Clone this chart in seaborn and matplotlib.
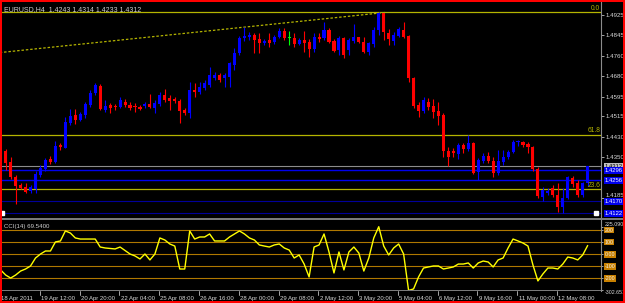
import numpy as np
import pandas as pd
import matplotlib
matplotlib.use("Agg")
import matplotlib.pyplot as plt
import matplotlib.transforms as mtransforms
from matplotlib.patches import Rectangle
import seaborn as sns

sns.set_style("dark", {"axes.facecolor": "black", "figure.facecolor": "black"})
plt.rcParams['font.family'] = ['Liberation Sans', 'DejaVu Sans']

# ---------------- data ----------------
header = "EURUSD,H4  1.4243 1.4314 1.4233 1.4312"
cci_label = "CCI(14) 69.5400"

opens = [1.4370, 1.4376, 1.4331, 1.4271, 1.4238, 1.4230, 1.4214, 1.4222, 1.4279, 1.4303,
         1.4343, 1.4331, 1.4400, 1.4388, 1.4489, 1.4521, 1.4501, 1.4521, 1.4561, 1.4610,
         1.4638, 1.4541, 1.4561, 1.4555, 1.4553, 1.4574, 1.4561, 1.4557, 1.4553, 1.4557,
         1.4565, 1.4549, 1.4565, 1.4602, 1.4590, 1.4586, 1.4578, 1.4541, 1.4529, 1.4622,
         1.4614, 1.4630, 1.4642, 1.4670, 1.4683, 1.4670, 1.4675, 1.4723, 1.4772, 1.4832,
         1.4836, 1.4844, 1.4828, 1.4812, 1.4824, 1.4816, 1.4836, 1.4860, 1.4832, 1.4832,
         1.4808, 1.4824, 1.4816, 1.4788, 1.4836, 1.4832, 1.4864, 1.4820, 1.4784, 1.4832,
         1.4784, 1.4820, 1.4836, 1.4816, 1.4776, 1.4808, 1.4864, 1.4933, 1.4852, 1.4820,
         1.4840, 1.4864, 1.4840, 1.4670, 1.4561, 1.4537, 1.4574, 1.4557, 1.4537, 1.4521,
         1.4376, 1.4376, 1.4364, 1.4400, 1.4384, 1.4408, 1.4291, 1.4335, 1.4355, 1.4335,
         1.4287, 1.4331, 1.4351, 1.4372, 1.4410, 1.4412, 1.4404, 1.4392, 1.4303, 1.4190,
         1.4206, 1.4226, 1.4198, 1.4149, 1.4182, 1.4267, 1.4246, 1.4198, 1.4243]
highs = [1.4380, 1.4384, 1.4351, 1.4279, 1.4246, 1.4246, 1.4238, 1.4295, 1.4319, 1.4347,
         1.4355, 1.4416, 1.4408, 1.4513, 1.4545, 1.4545, 1.4533, 1.4574, 1.4622, 1.4650,
         1.4646, 1.4582, 1.4569, 1.4565, 1.4594, 1.4586, 1.4574, 1.4569, 1.4561, 1.4574,
         1.4606, 1.4582, 1.4614, 1.4626, 1.4602, 1.4594, 1.4586, 1.4549, 1.4654, 1.4650,
         1.4654, 1.4662, 1.4715, 1.4695, 1.4691, 1.4691, 1.4735, 1.4792, 1.4840, 1.4877,
         1.4856, 1.4852, 1.4852, 1.4828, 1.4852, 1.4844, 1.4872, 1.4872, 1.4860, 1.4852,
         1.4832, 1.4860, 1.4828, 1.4852, 1.4852, 1.4897, 1.4872, 1.4828, 1.4840, 1.4836,
         1.4832, 1.4889, 1.4836, 1.4836, 1.4816, 1.4877, 1.4937, 1.4933, 1.4868, 1.4856,
         1.4877, 1.4897, 1.4844, 1.4675, 1.4574, 1.4594, 1.4590, 1.4586, 1.4574, 1.4529,
         1.4392, 1.4388, 1.4408, 1.4408, 1.4440, 1.4412, 1.4347, 1.4368, 1.4372, 1.4351,
         1.4380, 1.4380, 1.4380, 1.4420, 1.4420, 1.4416, 1.4412, 1.4396, 1.4311, 1.4230,
         1.4226, 1.4238, 1.4246, 1.4226, 1.4275, 1.4275, 1.4258, 1.4250, 1.4314]
lows = [1.4364, 1.4299, 1.4262, 1.4161, 1.4222, 1.4206, 1.4206, 1.4206, 1.4271, 1.4295,
        1.4323, 1.4327, 1.4380, 1.4388, 1.4481, 1.4485, 1.4497, 1.4509, 1.4553, 1.4602,
        1.4541, 1.4533, 1.4529, 1.4541, 1.4549, 1.4553, 1.4541, 1.4533, 1.4541, 1.4549,
        1.4549, 1.4529, 1.4557, 1.4574, 1.4541, 1.4569, 1.4489, 1.4521, 1.4509, 1.4594,
        1.4606, 1.4622, 1.4634, 1.4662, 1.4654, 1.4634, 1.4634, 1.4703, 1.4763, 1.4820,
        1.4824, 1.4772, 1.4772, 1.4804, 1.4796, 1.4808, 1.4832, 1.4824, 1.4804, 1.4796,
        1.4804, 1.4776, 1.4755, 1.4776, 1.4816, 1.4824, 1.4812, 1.4776, 1.4763, 1.4751,
        1.4763, 1.4812, 1.4812, 1.4772, 1.4763, 1.4796, 1.4844, 1.4824, 1.4804, 1.4804,
        1.4836, 1.4832, 1.4654, 1.4549, 1.4513, 1.4529, 1.4541, 1.4509, 1.4481, 1.4351,
        1.4315, 1.4351, 1.4343, 1.4368, 1.4376, 1.4283, 1.4258, 1.4327, 1.4327, 1.4271,
        1.4279, 1.4319, 1.4343, 1.4368, 1.4396, 1.4392, 1.4368, 1.4295, 1.4186, 1.4170,
        1.4198, 1.4190, 1.4129, 1.4125, 1.4178, 1.4230, 1.4190, 1.4190, 1.4233]
closes = [1.4374, 1.4327, 1.4271, 1.4234, 1.4226, 1.4210, 1.4230, 1.4283, 1.4307, 1.4339,
          1.4331, 1.4396, 1.4392, 1.4493, 1.4517, 1.4501, 1.4525, 1.4565, 1.4610, 1.4642,
          1.4545, 1.4557, 1.4549, 1.4551, 1.4582, 1.4561, 1.4549, 1.4551, 1.4545, 1.4565,
          1.4553, 1.4569, 1.4602, 1.4582, 1.4578, 1.4578, 1.4537, 1.4529, 1.4622, 1.4614,
          1.4634, 1.4650, 1.4683, 1.4683, 1.4662, 1.4683, 1.4731, 1.4772, 1.4832, 1.4840,
          1.4844, 1.4824, 1.4812, 1.4820, 1.4812, 1.4836, 1.4860, 1.4832, 1.4832, 1.4808,
          1.4824, 1.4812, 1.4788, 1.4836, 1.4828, 1.4864, 1.4816, 1.4780, 1.4832, 1.4763,
          1.4824, 1.4836, 1.4816, 1.4776, 1.4812, 1.4864, 1.4933, 1.4856, 1.4828, 1.4844,
          1.4868, 1.4836, 1.4670, 1.4557, 1.4537, 1.4582, 1.4553, 1.4533, 1.4517, 1.4376,
          1.4351, 1.4368, 1.4400, 1.4384, 1.4408, 1.4287, 1.4339, 1.4355, 1.4335, 1.4287,
          1.4335, 1.4351, 1.4372, 1.4412, 1.4414, 1.4400, 1.4392, 1.4303, 1.4194, 1.4218,
          1.4214, 1.4198, 1.4149, 1.4186, 1.4271, 1.4242, 1.4198, 1.4246, 1.4312]
cci = [-133, -175, -200, -175, -142, -125, -100, -34, -1, 24,
       24, 99, 107, 190, 173, 132, 123, 123, 123, 123,
       57, 49, 45, 41, 57, 28, -1, -17, -42, -1,
       -50, -1, 132, 115, 82, 65, -125, -125, 190, 123,
       140, 140, 165, 107, 107, 107, 140, 165, 190, 165,
       132, 115, 74, 65, 57, 74, 82, 49, 32, -34,
       -9, -84, -191, 57, 74, 165, 16, -158, 16, -133,
       16, 57, 7, -142, -34, 132, 225.09, 65, -9, 49,
       82, -1, -302.651, -290, -191, -117, -108, -100, -100, -125,
       -117, -108, -84, -84, -75, -117, -75, -59, -67, -108,
       -50, -34, 49, 123, 107, 90, 65, -92, -224, -166,
       -117, -117, -125, -84, -26, -34, -50, -9, 69.54]

date_labels = ["18 Apr 2011", "19 Apr 12:00", "20 Apr 20:00", "22 Apr 04:00", "25 Apr 08:00",
               "26 Apr 16:00", "28 Apr 00:00", "29 Apr 08:00", "2 May 12:00", "3 May 20:00",
               "5 May 04:00", "6 May 12:00", "9 May 16:00", "11 May 00:00", "12 May 08:00"]
date_bars = [0, 8, 16, 24, 32, 40, 48, 56, 64, 72, 80, 88, 96, 104, 112]

price_ticks = [1.4925, 1.4845, 1.4760, 1.4680, 1.4595, 1.4515, 1.4430, 1.4350, 1.4185]
fib_levels = [1.4936, 1.4439, 1.4219]
fib_names = ["0.0", "61.8", "23.6"]
bid_price = 1.4312
blue_lines = [1.4296, 1.4256]
navy_lines = [1.4170, 1.4122]
trend_bars = [-0.2, 77.5]
trend_prices = [1.4773, 1.4936]

cci_levels = [200, 100, 0, -100, -200]
cci_tick_vals = [225.09, 200, 100, 0, -100, -200, -302.651]
cci_tick_text = ["225.090", "200", "100", "0.00", "-100", "-200", "-302.651"]

# ---------------- figure ----------------
W, H = 625, 303
fig = plt.figure(figsize=(W / 100, H / 100), dpi=100, facecolor="black")

def fx(px):
    return px / W

def fy(py):
    return 1 - py / H

ax = fig.add_axes([fx(0), fy(218), fx(601), fy(2) - fy(218)])
axc = fig.add_axes([fx(0), fy(290.5), fx(601), fy(220) - fy(290.5)])

n = len(opens)
idx = np.arange(n)
df = pd.DataFrame({"bar": idx, "open": opens, "high": highs, "low": lows, "close": closes, "cci": cci})

xlim = (-0.14, 120.68)
for a in (ax, axc):
    a.set_facecolor("black")
    a.set_xlim(*xlim)
    for s in ("top", "left", "bottom"):
        a.spines[s].set_visible(False)
    a.spines["right"].set_color("#8c8c8c")
    a.spines["right"].set_linewidth(0.8)
    a.set_xticks([])
    a.grid(False)

ax.set_ylim(1.4103, 1.4978)
axc.set_ylim(-303, 280.6)

# candles
cols = []
for o, c in zip(df["open"], df["close"]):
    if c > o:
        cols.append("#0000ff")
    elif c < o:
        cols.append("#ff0000")
    else:
        cols.append("#00ff00")
ax.vlines(df["bar"], df["low"], df["high"], colors=cols, linewidth=0.8, zorder=3)
body_bottom = np.minimum(df["open"], df["close"])
body_h = np.maximum(np.abs(df["close"] - df["open"]), 0.00035)
ax.bar(df["bar"], body_h, bottom=body_bottom, width=0.62, color=cols, linewidth=0, zorder=4)

# horizontal objects
fib_col = "#b4b400"
for p, name in zip(fib_levels, fib_names):
    ax.axhline(p, color=fib_col, linewidth=0.9, zorder=2)
    ax.text(120.5, p + 0.0003, name, color=fib_col, fontsize=4.8, ha="right", va="bottom", zorder=5)
ax.plot(trend_bars, trend_prices, color=fib_col, linewidth=0.9, linestyle=(0, (2, 1.5)), zorder=2)
ax.axhline(bid_price, color="#8c8c8c", linewidth=0.8, zorder=2)
for p in blue_lines:
    ax.axhline(p, color="#0000ee", linewidth=1.0, zorder=2)
for p in navy_lines:
    ax.axhline(p, color="#00009a", linewidth=0.8, zorder=2)

# right price axis
ax.yaxis.tick_right()
ax.set_yticks(price_ticks)
ax.set_yticklabels([f"{p:.4f}" for p in price_ticks])
ax.tick_params(axis="y", direction="out", length=2, width=0.6, color="#c0c0c0",
               labelsize=4.4, labelcolor="#d8d8d8", pad=1.5)
for lbl, p in zip(ax.get_yticklabels(), price_ticks):
    if p == 1.4185:
        lbl.set_verticalalignment("bottom")

tr = mtransforms.blended_transform_factory(ax.transAxes, ax.transData)
for p, fc in [(bid_price, "#c0c0c0")] + [(p, "#0000ee") for p in blue_lines] + [(p, "#0000ee") for p in navy_lines]:
    ax.text(1.006, p, f"{p:.4f}", transform=tr, fontsize=4.2,
            color="white" if fc != "#c0c0c0" else "black", va="center", ha="left", zorder=6,
            clip_on=False, bbox=dict(boxstyle="square,pad=0.15", fc=fc, ec="none"))
# selection markers on the lowest line
ax.plot([0.3, 119.6], [navy_lines[1], navy_lines[1]], linestyle="none", marker="s",
        markersize=2.2, color="white", zorder=6, clip_on=False)

# ---------------- CCI panel ----------------
for lv in cci_levels:
    axc.axhline(lv, color="#b07800", linewidth=0.8, zorder=1)
sns.lineplot(data=df, x="bar", y="cci", ax=axc, color="#ffff00", linewidth=1.0, zorder=3)
axc.set_xlabel("")
axc.set_ylabel("")
axc.set_xlim(*xlim)
axc.yaxis.tick_right()
axc.set_yticks(cci_tick_vals)
axc.set_yticklabels(cci_tick_text)
axc.tick_params(axis="y", direction="out", length=1.5, width=0.6, color="#c0c0c0",
                labelsize=3.8, labelcolor="#d8d8d8", pad=1)
for lbl, v in zip(axc.get_yticklabels(), cci_tick_vals):
    if v in cci_levels:
        lbl.set_bbox(dict(boxstyle="square,pad=0.12", fc="#c88000", ec="none"))
        lbl.set_color("#f0f0f0")
    elif v > 0:
        lbl.set_verticalalignment("bottom")
    else:
        lbl.set_verticalalignment("top")

# date axis
trc = mtransforms.blended_transform_factory(axc.transData, axc.transAxes)
for b, lab in zip(date_bars, date_labels):
    axc.plot([b - 0.15, b - 0.15], [0, -0.06], transform=trc, color="#c0c0c0",
             linewidth=0.6, clip_on=False)
    axc.text(b + 0.1, -0.075, lab, transform=trc, fontsize=4.3, color="#d8d8d8",
             ha="left", va="top", clip_on=False)

# separators and header texts
fig.add_artist(Rectangle((0, fy(220)), 1, fy(218) - fy(220), transform=fig.transFigure,
                         fc="#7a7a7a", ec="none"))
fig.add_artist(Rectangle((0, fy(291)), fx(601), fy(290) - fy(291), transform=fig.transFigure,
                         fc="#7a7a7a", ec="none"))
fig.text(fx(4), fy(10), header, fontsize=5, color="#d0d0d0", ha="left", va="center")
fig.text(fx(4), fy(226.5), cci_label, fontsize=4.4, color="#d0d0d0", ha="left", va="center")

# red window frame
red = "#ff0000"
for rect in [(0, fy(1.7), 1, fy(0) - fy(1.7)),
             (0, 0, 1, fy(301) - fy(303)),
             (0, 0, fx(1.7), 1),
             (fx(622.7), 0, 1 - fx(622.7), 1)]:
    fig.add_artist(Rectangle(rect[:2], rect[2], rect[3], transform=fig.transFigure, fc=red, ec="none"))

fig.savefig("out.png", dpi=100, facecolor="black")
